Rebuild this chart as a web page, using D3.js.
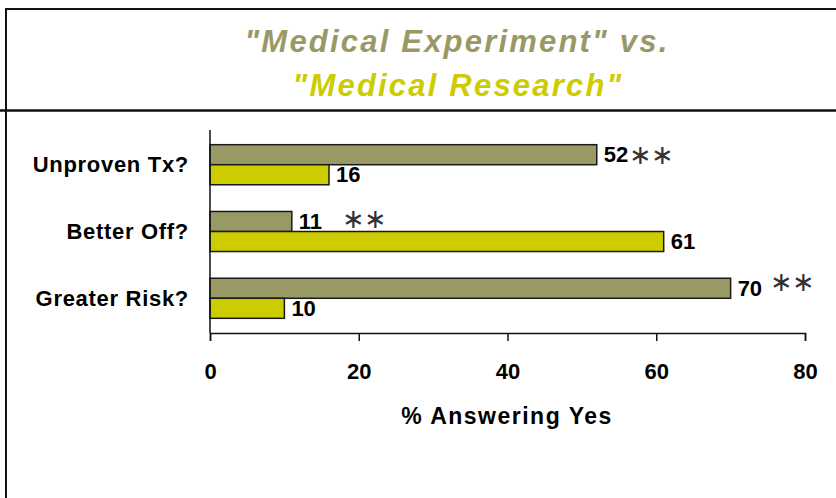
<!DOCTYPE html>
<html>
<head>
<meta charset="utf-8">
<script src="https://cdnjs.cloudflare.com/ajax/libs/d3/7.8.5/d3.min.js"></script>
<style>
  body { margin: 0; background: #fff; }
  text { font-family: "Liberation Sans", Arial, sans-serif; }
</style>
</head>
<body>
<div id="chart-area"></div>
<script>
// data
const categories = ["Unproven Tx?", "Better Off?", "Greater Risk?"]
const seriesNames = ["Medical Experiment", "Medical Research"]
const experiment = [52, 11, 70]
const research = [16, 61, 10]
const significant = [true, true, true]
const xTicks = [0, 20, 40, 60, 80]

const W = 836, H = 498
const PLOT = { LEFT: 210, RIGHT: 805, TOP: 130, BOTTOM: 333 }
const COLORS = ["#999966", "#cccc00"]

const svg = d3.select("#chart-area").append("svg")
  .attr("width", W)
  .attr("height", H)

// frame
svg.append("rect")
  .attr("x", 6).attr("y", 9)
  .attr("width", W + 20).attr("height", H + 20)
  .attr("fill", "none")
  .attr("stroke", "#111")
  .attr("stroke-width", 2)

svg.append("line")
  .attr("x1", 0).attr("x2", W)
  .attr("y1", 110.5).attr("y2", 110.5)
  .attr("stroke", "#111")
  .attr("stroke-width", 2.5)

// title
const title = svg.append("text")
  .attr("text-anchor", "middle")
  .attr("font-size", "31px")
  .attr("font-weight", "bold")
  .attr("font-style", "italic")
  .attr("letter-spacing", "2.2px")
title.append("tspan")
  .attr("x", 457).attr("y", 52)
  .attr("fill", COLORS[0])
  .text(`"${seriesNames[0]}" vs.`)
title.append("tspan")
  .attr("x", 458).attr("y", 96)
  .attr("fill", COLORS[1])
  .text(`"${seriesNames[1]}"`)

// scales
const x = d3.scaleLinear()
  .domain([0, 80])
  .range([PLOT.LEFT, PLOT.RIGHT])

const y = d3.scaleBand()
  .domain(categories)
  .range([PLOT.TOP, PLOT.BOTTOM])
  .paddingInner(0.4)
  .paddingOuter(0.22)

const ySub = d3.scaleBand()
  .domain([0, 1])
  .range([0, y.bandwidth()])

const rows = categories.map((c, i) => ({
  cat: c, vals: [experiment[i], research[i]], sig: significant[i]
}))

// bars
const groups = svg.selectAll("g.row")
  .data(rows)
  .enter().append("g")
  .attr("class", "row")
  .attr("transform", d => `translate(0, ${y(d.cat)})`)

groups.selectAll("rect")
  .data(d => d.vals.map((v, k) => ({ v, k })))
  .enter().append("rect")
  .attr("x", x(0))
  .attr("y", d => ySub(d.k))
  .attr("width", d => x(d.v) - x(0))
  .attr("height", ySub.bandwidth())
  .attr("fill", d => COLORS[d.k])
  .attr("stroke", "#1a1a1a")
  .attr("stroke-width", 1.5)

// value labels
groups.selectAll("text.val")
  .data(d => d.vals.map((v, k) => ({ v, k })))
  .enter().append("text")
  .attr("class", "val")
  .attr("x", d => x(d.v) + 7)
  .attr("y", d => ySub(d.k) + ySub.bandwidth() / 2)
  .attr("dy", "0.35em")
  .attr("font-size", "22px")
  .attr("font-weight", "bold")
  .attr("fill", "#000")
  .text(d => d.v)

// significance marks, after the experiment label
const sigGap = [1, 20, 8]
const sigLift = [0, -3, -7]
groups.each(function (d, i) {
  if (!d.sig) return
  const g = d3.select(this)
  const lbl = g.selectAll("text.val").filter(e => e.k === 0)
  const end = x(d.vals[0]) + 7 + lbl.node().getComputedTextLength()
  g.append("text")
    .attr("x", end + sigGap[i])
    .attr("y", ySub(0) + ySub.bandwidth() / 2 + sigLift[i])
    .attr("dy", "0.36em")
    .attr("font-family", "DejaVu Sans")
    .attr("font-size", "27px")
    .attr("font-weight", "200")
    .attr("fill", "#333")
    .attr("letter-spacing", "-1px")
    .text("\u2217\u2217")
})

// y axis (line only) and category labels
svg.append("line")
  .attr("x1", x(0)).attr("x2", x(0))
  .attr("y1", PLOT.TOP).attr("y2", PLOT.BOTTOM)
  .attr("stroke", "#111")
  .attr("stroke-width", 1.5)

svg.selectAll("text.cat")
  .data(categories)
  .enter().append("text")
  .attr("class", "cat")
  .attr("x", 189)
  .attr("y", d => y(d) + y.bandwidth() / 2)
  .attr("dy", "0.35em")
  .attr("text-anchor", "end")
  .attr("font-size", "22px")
  .attr("font-weight", "bold")
  .attr("letter-spacing", "0.7px")
  .text(d => d)

// x axis
const xAxisCall = d3.axisBottom(x)
  .tickValues(xTicks)
  .tickSize(8)
  .tickPadding(22)
const xAxis = svg.append("g")
  .attr("transform", `translate(0, ${PLOT.BOTTOM})`)
  .call(xAxisCall)
xAxis.select(".domain").attr("stroke", "#111").attr("stroke-width", 1.5)
xAxis.selectAll(".tick line").attr("stroke", "#111").attr("stroke-width", 1.5)
xAxis.selectAll("text")
  .attr("font-family", "Liberation Sans, Arial, sans-serif")
  .attr("font-size", "22px")
  .attr("font-weight", "bold")
  .attr("fill", "#000")

// x label
svg.append("text")
  .attr("x", 507)
  .attr("y", 424)
  .attr("text-anchor", "middle")
  .attr("font-size", "23px")
  .attr("font-weight", "bold")
  .attr("letter-spacing", "1.5px")
  .text("% Answering Yes")
</script>
</body>
</html>
